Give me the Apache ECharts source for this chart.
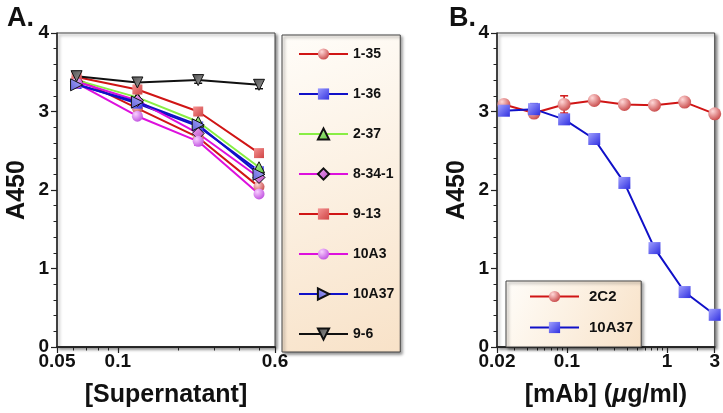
<!DOCTYPE html>
<html>
<head>
<meta charset="utf-8">
<script src="https://cdn.jsdelivr.net/npm/echarts@6/dist/echarts.min.js"></script>
<style>html,body{margin:0;padding:0;background:#fff}#c{width:723px;height:413px}</style>
</head>
<body>
<div id="c"></div>
<script>
// ---------- Panel A data ----------
const xA = [0.0625, 0.125, 0.25, 0.5];
const a_1_35   = [3.42, 3.04, 2.67, 2.04];
const a_1_36   = [3.35, 3.10, 2.81, 2.24];
const a_2_37   = [3.40, 3.18, 2.87, 2.29];
const a_8_34_1 = [3.38, 3.14, 2.72, 2.16];
const a_9_13   = [3.44, 3.28, 3.00, 2.47];
const a_10A3   = [3.36, 2.94, 2.62, 1.95];
const a_10A37  = [3.34, 3.12, 2.83, 2.20];
const a_9_6    = [3.45, 3.37, 3.40, 3.34];
const err_9_6  = [0.05, 0.04, 0.04, 0.05];
const err_10A3 = [0.03, 0.03, 0.05, 0.03];
const namesA = ['1-35', '1-36', '2-37', '8-34-1', '9-13', '10A3', '10A37', '9-6'];
const ticksA_major = [0.05, 0.1, 0.6];
const ticksA_minor = [0.06, 0.07, 0.08, 0.09, 0.2, 0.3, 0.4, 0.5];

// ---------- Panel B data ----------
const xB = [0.0234375, 0.046875, 0.09375, 0.1875, 0.375, 0.75, 1.5, 3];
const b_2C2   = [3.09, 2.98, 3.09, 3.14, 3.09, 3.08, 3.12, 2.97];
const b_10A37 = [3.01, 3.03, 2.90, 2.65, 2.09, 1.26, 0.70, 0.41];
const err_2C2   = [0.02, 0.04, 0.11, 0.02, 0.02, 0.02, 0.02, 0.02];
const err_10A37 = [0.02, 0.07, 0.03, 0.02, 0.02, 0.02, 0.02, 0.02];
const namesB = ['2C2', '10A37'];
const ticksB_major = [0.02, 0.1, 1, 3];
const ticksB_minor = [0.03, 0.04, 0.05, 0.06, 0.07, 0.08, 0.09, 0.2, 0.3, 0.4, 0.5, 0.6, 0.7, 0.8, 0.9, 2];

const FONT = 'Liberation Sans';
const pair = (xs, ys) => xs.map((x, i) => [x, ys[i]]);
const trip = (xs, ys, es) => xs.map((x, i) => [x, ys[i], es[i]]);

function radial(light, dark) {
  return {type: 'radial', x: 0.35, y: 0.3, r: 0.75,
    colorStops: [{offset: 0, color: light}, {offset: 1, color: dark}]};
}
function lin(light, dark) {
  return {type: 'linear', x: 0, y: 0, x2: 1, y2: 1,
    colorStops: [{offset: 0, color: light}, {offset: 1, color: dark}]};
}

function lineSeries(name, data, xi, yi, lineColor, symbol, size, fill, border, rotate) {
  return {
    name: name, type: 'line', xAxisIndex: xi, yAxisIndex: yi,
    data: data, symbol: symbol, symbolSize: size, symbolRotate: rotate || 0,
    showAllSymbol: true, animation: false, z: 3,
    lineStyle: {color: lineColor, width: 2},
    itemStyle: {color: fill, borderColor: border || 'transparent', borderWidth: border ? 1 : 0}
  };
}

function errSeries(data, xi, yi, color) {
  return {
    type: 'custom', xAxisIndex: xi, yAxisIndex: yi, data: data, z: 2, animation: false,
    silent: true,
    renderItem: function (params, api) {
      const x = api.value(0), y = api.value(1), e = api.value(2);
      const top = api.coord([x, y + e]);
      const bot = api.coord([x, y - e]);
      const w = 4;
      return {type: 'group', children: [
        {type: 'line', shape: {x1: top[0], y1: top[1], x2: bot[0], y2: bot[1]}, style: {stroke: color, lineWidth: 1.5}},
        {type: 'line', shape: {x1: top[0] - w, y1: top[1], x2: top[0] + w, y2: top[1]}, style: {stroke: color, lineWidth: 1.5}},
        {type: 'line', shape: {x1: bot[0] - w, y1: bot[1], x2: bot[0] + w, y2: bot[1]}, style: {stroke: color, lineWidth: 1.5}}
      ]};
    }
  };
}

const labelStyle = {fontFamily: FONT, fontWeight: 'bold', fontSize: 19, color: '#111'};
const nameStyle = {fontFamily: FONT, fontWeight: 'bold', fontSize: 25, color: '#111'};

function xMajor(gi, min, max, ticks, name, nameRich) {
  return {
    type: 'log', logBase: 10, gridIndex: gi, min: min, max: max, position: 'bottom',
    name: name, nameLocation: 'middle', nameGap: 36,
    nameTextStyle: Object.assign({}, nameStyle, nameRich ? {rich: nameRich} : {}),
    axisLine: {show: true, onZero: false, lineStyle: {color: '#222', width: 1.5}},
    axisTick: {show: true, length: 6, customValues: ticks, lineStyle: {color: '#222', width: 1.2}},
    axisLabel: Object.assign({margin: 5, customValues: ticks, formatter: v => String(+(+v).toPrecision(4))}, labelStyle),
    splitLine: {show: false}, minorTick: {show: false}
  };
}
function xMinor(gi, min, max, ticks) {
  return {
    type: 'log', logBase: 10, gridIndex: gi, min: min, max: max, position: 'bottom',
    axisLine: {show: true, onZero: false, lineStyle: {color: '#222', width: 1.5}},
    axisTick: {show: true, length: 3.5, customValues: ticks, lineStyle: {color: '#222', width: 1}},
    axisLabel: {show: false, customValues: ticks},
    splitLine: {show: false}
  };
}
function yAxis(gi) {
  return {
    type: 'value', gridIndex: gi, min: 0, max: 4, interval: 1, position: 'left',
    name: 'A450', nameLocation: 'middle', nameGap: 27, nameTextStyle: nameStyle,
    axisLine: {show: true, onZero: false, lineStyle: {color: '#222', width: 1.5}},
    axisTick: {show: true, length: 6, lineStyle: {color: '#222', width: 1.2}},
    minorTick: {show: true, splitNumber: 5, length: 3.5, lineStyle: {color: '#222', width: 1}},
    axisLabel: Object.assign({margin: 8}, labelStyle),
    splitLine: {show: false}, minorSplitLine: {show: false}
  };
}

const RED = '#d01515', BLUE = '#1010c8', GREEN = '#88ee44', MAG = '#dd10dd', BLACK = '#111';

const seriesA = [
  lineSeries(namesA[0], pair(xA, a_1_35), 0, 0, RED, 'circle', 11, radial('#ffd8d8', '#c84848')),
  lineSeries(namesA[1], pair(xA, a_1_36), 0, 0, BLUE, 'rect', 10, lin('#9a9aff', '#3434e0')),
  lineSeries(namesA[2], pair(xA, a_2_37), 0, 0, GREEN, 'triangle', 11, lin('#b8f59a', '#5cc23a'), '#111'),
  lineSeries(namesA[3], pair(xA, a_8_34_1), 0, 0, MAG, 'diamond', 12, lin('#f0a8f5', '#b548c0'), '#111'),
  lineSeries(namesA[4], pair(xA, a_9_13), 0, 0, RED, 'rect', 10, lin('#f49494', '#d04444')),
  lineSeries(namesA[5], pair(xA, a_10A3), 0, 0, MAG, 'circle', 11, radial('#f8d0ff', '#c050e0')),
  lineSeries(namesA[6], pair(xA, a_10A37), 0, 0, BLUE, 'triangle', 12, lin('#b0b0ff', '#6060d8'), '#111', -90),
  lineSeries(namesA[7], pair(xA, a_9_6), 0, 0, BLACK, 'triangle', 11, lin('#a0a0a0', '#505050'), '#111', 180),
  errSeries(trip(xA, a_9_6, err_9_6), 0, 0, BLACK),
  errSeries(trip(xA, a_10A3, err_10A3), 0, 0, MAG)
];
const seriesB = [
  errSeries(trip(xB, b_2C2, err_2C2), 2, 1, RED),
  errSeries(trip(xB, b_10A37, err_10A37), 2, 1, BLUE),
  lineSeries('B|' + namesB[0], pair(xB, b_2C2), 2, 1, RED, 'circle', 13, radial('#ffd8d8', '#c84848')),
  lineSeries('B|' + namesB[1], pair(xB, b_10A37), 2, 1, BLUE, 'rect', 12, lin('#a0a0ff', '#3030e0'))
];

const legendBg = {type: 'linear', x: 0, y: 0, x2: 1, y2: 1,
  colorStops: [{offset: 0, color: '#fffdf9'}, {offset: 1, color: '#f8e2c8'}]};

const option = {
  backgroundColor: '#fff',
  animation: false,
  title: [
    {text: 'A.', left: 2, top: 0, textStyle: {fontFamily: FONT, fontWeight: 'bold', fontSize: 27, color: '#111'}},
    {text: 'B.', left: 444, top: 0, textStyle: {fontFamily: FONT, fontWeight: 'bold', fontSize: 27, color: '#111'}}
  ],
  grid: [
    {left: 57, top: 33, width: 218, height: 321, show: true, backgroundColor: '#fff', borderColor: '#444', borderWidth: 1,
      shadowColor: 'rgba(0,0,0,0.45)', shadowBlur: 3, shadowOffsetX: 2, shadowOffsetY: 2},
    {left: 497, top: 33, width: 219, height: 323, show: true, backgroundColor: '#fff', borderColor: '#444', borderWidth: 1,
      shadowColor: 'rgba(0,0,0,0.45)', shadowBlur: 3, shadowOffsetX: 2, shadowOffsetY: 2}
  ],
  xAxis: [
    xMajor(0, 0.05, 0.6, ticksA_major, '[Supernatant]'),
    xMinor(0, 0.05, 0.6, ticksA_minor),
    xMajor(1, 0.02, 3, ticksB_major, '[mAb] ({i|μ}g/ml)', {i: {fontFamily: FONT, fontWeight: 'bold', fontStyle: 'italic', fontSize: 25, color: '#111'}}),
    xMinor(1, 0.02, 3, ticksB_minor)
  ],
  yAxis: [yAxis(0), yAxis(1)],
  legend: [
    {data: namesA, orient: 'vertical', left: 282, top: 35,
      padding: [12, 6, 11, 16], itemWidth: 49, itemHeight: 14, itemGap: 26,
      backgroundColor: legendBg, borderColor: '#444', borderWidth: 1,
      shadowColor: 'rgba(0,0,0,0.45)', shadowBlur: 3, shadowOffsetX: 2, shadowOffsetY: 2,
      textStyle: {fontFamily: FONT, fontWeight: 'bold', fontSize: 14, color: '#111'}},
    {data: namesB.map(n => 'B|' + n), orient: 'vertical', left: 506, top: 281,
      formatter: n => n.slice(2),
      padding: [8, 8, 12, 23], itemWidth: 49, itemHeight: 14, itemGap: 16,
      backgroundColor: legendBg, borderColor: '#444', borderWidth: 1,
      shadowColor: 'rgba(0,0,0,0.45)', shadowBlur: 3, shadowOffsetX: 2, shadowOffsetY: 2,
      textStyle: {fontFamily: FONT, fontWeight: 'bold', fontSize: 15, color: '#111', padding: [0, 0, 0, 5]}}
  ],
  series: seriesA.concat(seriesB)
};

const chart = echarts.init(document.getElementById('c'), null, {renderer: 'canvas'});
chart.setOption(option);
</script>
</body>
</html>
